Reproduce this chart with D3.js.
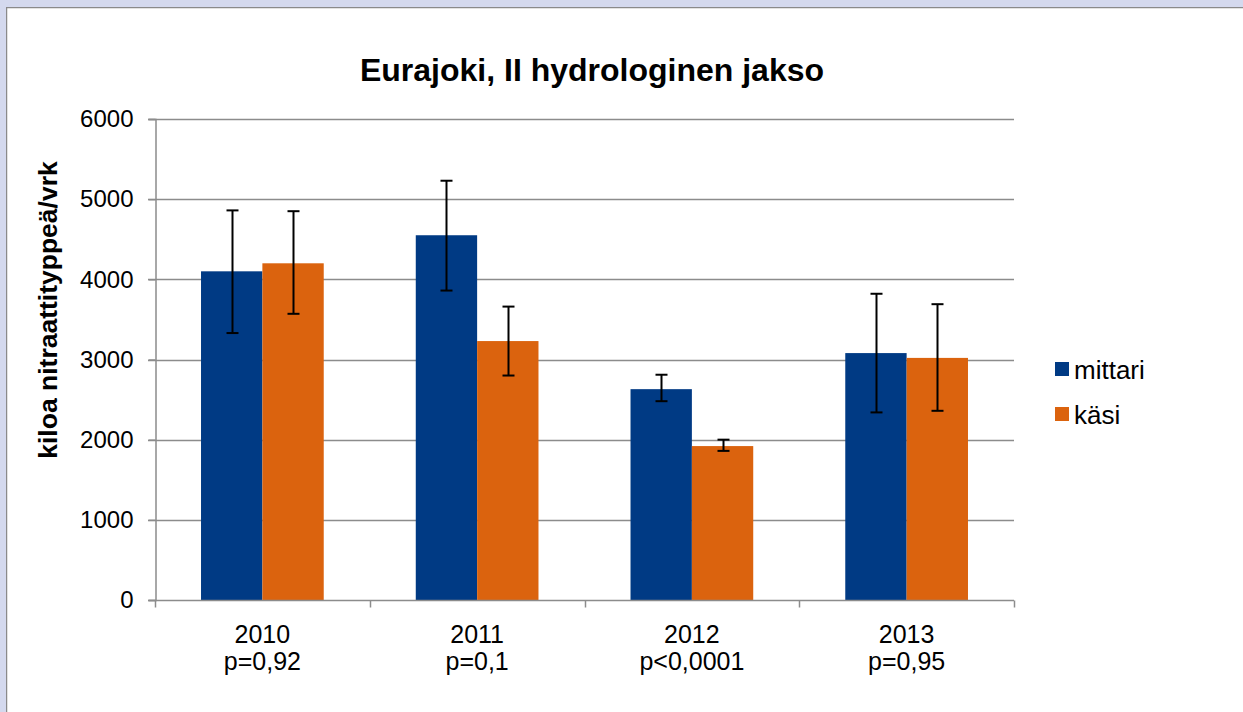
<!DOCTYPE html>
<html lang="fi">
<head>
<meta charset="UTF-8" />
<title>Eurajoki, II hydrologinen jakso</title>
<style>
    body {
        margin: 0;
        background: #d4d9ee;
        font-family: "Liberation Sans", Arial, sans-serif;
        overflow: hidden;
    }
    #chart {
        position: absolute;
        left: 6px;
        top: 7px;
    }
</style>
<script src="https://d3js.org/d3.v7.min.js"></script>
</head>
<body>
<svg id="chart" width="1237" height="705"></svg>
<script>
    const years = ["2010", "2011", "2012", "2013"];
    const pValues = ["p=0,92", "p=0,1", "p<0,0001", "p=0,95"];
    const seriesNames = ["mittari", "käsi"];
    const mittari = [4100, 4550, 2630, 3080];
    const mittariHigh = [4860, 5230, 2810, 3820];
    const mittariLow = [3330, 3860, 2480, 2340];
    const kasi = [4200, 3230, 1920, 3020];
    const kasiHigh = [4850, 3660, 2000, 3690];
    const kasiLow = [3570, 2800, 1860, 2360];
    const yTicks = [0, 1000, 2000, 3000, 4000, 5000, 6000];
    const colors = ["#003a84", "#db630e"];

    const svg = d3.select("#chart");
    const ox = 6, oy = 7; // svg offset in page

    // frame
    svg.append("rect").attr("x", 0).attr("y", 0).attr("width", 1237).attr("height", 705)
        .attr("fill", "#fff");
    svg.append("line").attr("x1", 0.5).attr("x2", 0.5).attr("y1", 0).attr("y2", 705)
        .attr("stroke", "#8a8a8a").attr("stroke-width", 1.5);
    svg.append("line").attr("x1", 0).attr("x2", 1237).attr("y1", 0.5).attr("y2", 0.5)
        .attr("stroke", "#8a8a8a").attr("stroke-width", 1.5);

    const plotLeft = 155 - ox, plotRight = 1014 - ox, plotTop = 119 - oy, plotBottom = 600 - oy;

    const y = d3.scaleLinear().domain([0, 6000]).range([plotBottom, plotTop]);
    const x0 = d3.scaleBand().domain(years).range([plotLeft, plotRight]).paddingInner(0).paddingOuter(0);
    const x1 = d3.scaleBand().domain(seriesNames).range([0, x0.bandwidth()]).paddingInner(0).paddingOuter(0.75);

    // gridlines
    svg.append("g").selectAll("line").data(yTicks.slice(1)).enter().append("line")
        .attr("x1", plotLeft - 7).attr("x2", plotRight)
        .attr("y1", d => Math.round(y(d)) + 0.5).attr("y2", d => Math.round(y(d)) + 0.5)
        .attr("stroke", "#8c8c8c").attr("stroke-width", 1.5);

    // y axis
    const yAxis = svg.append("g").attr("transform", `translate(${plotLeft + 0.5},0)`)
        .call(d3.axisLeft(y).tickValues(yTicks).tickFormat(d3.format("d")).tickSize(7).tickPadding(15));
    yAxis.select(".domain").attr("stroke", "#8c8c8c").attr("stroke-width", 1.5);
    yAxis.selectAll(".tick line").attr("stroke", "#8c8c8c").attr("stroke-width", 1.5);
    yAxis.selectAll("text").attr("font-size", "24px").attr("fill", "#000")
        .attr("font-family", "Liberation Sans, Arial, sans-serif");

    // bars
    const series = [
        { name: "mittari", values: mittari, hi: mittariHigh, lo: mittariLow },
        { name: "käsi", values: kasi, hi: kasiHigh, lo: kasiLow }
    ];
    series.forEach((s, si) => {
        const g = svg.append("g");
        g.selectAll("rect").data(years).enter().append("rect")
            .attr("x", d => x0(d) + x1(s.name))
            .attr("width", x1.bandwidth())
            .attr("y", (d, i) => y(s.values[i]))
            .attr("height", (d, i) => y(0) - y(s.values[i]))
            .attr("fill", colors[si]);
    });
    series.forEach(s => {
        const g = svg.append("g");
        years.forEach((d, i) => {
            const cx = Math.round(x0(d) + x1(s.name) + x1.bandwidth() / 2) + 0.5;
            g.append("line").attr("x1", cx).attr("x2", cx)
                .attr("y1", y(s.hi[i])).attr("y2", y(s.lo[i]))
                .attr("stroke", "#000").attr("stroke-width", 2);
            [s.hi[i], s.lo[i]].forEach(v => {
                g.append("line").attr("x1", cx - 6).attr("x2", cx + 6)
                    .attr("y1", y(v)).attr("y2", y(v))
                    .attr("stroke", "#000").attr("stroke-width", 2);
            });
        });
    });

    // x axis
    const xAxis = svg.append("g").attr("transform", `translate(0,${plotBottom + 0.5})`);
    xAxis.append("line").attr("x1", plotLeft - 7).attr("x2", plotRight).attr("y1", 0).attr("y2", 0)
        .attr("stroke", "#8c8c8c").attr("stroke-width", 1.5);
    const xTickPos = years.map(d => x0(d)).concat([plotRight]);
    xAxis.selectAll("line.tk").data(xTickPos).enter().append("line")
        .attr("class", "tk")
        .attr("x1", d => Math.round(d) + 0.5).attr("x2", d => Math.round(d) + 0.5)
        .attr("y1", 0).attr("y2", 7)
        .attr("stroke", "#8c8c8c").attr("stroke-width", 1.5);
    years.forEach((d, i) => {
        const cx = x0(d) + x0.bandwidth() / 2;
        xAxis.append("text").attr("text-anchor", "middle")
            .attr("font-size", "25px").attr("fill", "#000")
            .attr("x", cx).attr("y", 42).text(d);
        xAxis.append("text").attr("text-anchor", "middle")
            .attr("font-size", "25px").attr("fill", "#000")
            .attr("x", cx).attr("y", 69).text(pValues[i]);
    });

    // title
    svg.append("text").attr("x", 592 - ox).attr("y", 81 - oy)
        .attr("text-anchor", "middle").attr("font-size", "32px").attr("font-weight", "bold")
        .text("Eurajoki, II hydrologinen jakso");

    // y label
    svg.append("text")
        .attr("transform", `translate(${57 - ox},${310 - oy}) rotate(-90)`)
        .attr("text-anchor", "middle").attr("font-size", "26.5px").attr("font-weight", "bold")
        .text("kiloa nitraattityppeä/vrk");

    // legend
    const legend = svg.append("g");
    seriesNames.forEach((n, i) => {
        legend.append("rect").attr("x", 1055 - ox).attr("y", 362 - oy + i * 45)
            .attr("width", 14).attr("height", 14).attr("fill", colors[i]);
        legend.append("text").attr("x", 1074 - ox).attr("y", 379 - oy + i * 45)
            .attr("font-size", "26px").text(n);
    });
</script>
</body>
</html>
